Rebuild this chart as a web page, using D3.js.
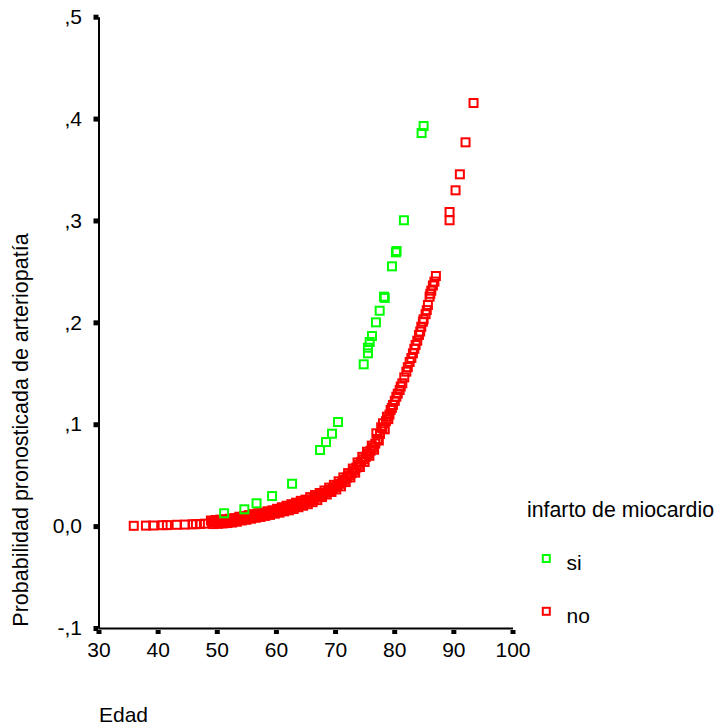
<!DOCTYPE html>
<html>
<head>
<meta charset="utf-8">
<script src="https://cdn.jsdelivr.net/npm/d3@7/dist/d3.min.js"></script>
<style>
  body { margin: 0; background: #fff; }
  text { font-family: Arial, "Liberation Sans", sans-serif; fill: #000; }
</style>
</head>
<body>
<svg id="chart" width="719" height="726"></svg>
<script>
// Axis ticks
const xTicks = [30, 40, 50, 60, 70, 80, 90, 100];
const yTicks = [-0.1, 0, 0.1, 0.2, 0.3, 0.4, 0.5];
const yTickLabels = ["-,1", "0,0", ",1", ",2", ",3", ",4", ",5"];

// Group: infarto de miocardio = si
const ageSi = [51.24, 54.66, 56.72, 59.35, 62.73, 67.46, 68.47, 69.48, 70.50,
  74.84, 75.56, 75.56, 75.85, 76.24, 76.91, 77.54, 78.27, 78.40,
  79.62, 80.29, 80.40, 81.64, 84.63, 84.97];
const probSi = [0.0126, 0.0165, 0.0224, 0.0295, 0.0416, 0.0747, 0.0825, 0.0907, 0.1022,
  0.1588, 0.1696, 0.1751, 0.1807, 0.1866, 0.2000, 0.2114, 0.2252, 0.2240,
  0.2550, 0.2687, 0.2700, 0.3002, 0.3858, 0.3927];

// Group: infarto de miocardio = no
const ageNo = [35.96, 38.02, 39.25, 40.84, 41.57, 43.21, 44.61, 45.91, 46.47, 47.14, 47.99,
  49.0, 49.4, 49.8, 50.2, 50.6, 51.0, 51.4, 51.8, 52.2, 52.6, 53.0, 53.4, 53.8, 54.2, 54.6,
  55.0, 55.4, 55.8, 56.2, 56.6, 57.0, 57.4, 57.8, 58.2, 58.6, 59.0, 59.4, 59.8, 60.2, 60.6,
  61.0, 61.4, 61.8, 62.2, 62.6, 63.0, 63.4, 63.8, 64.2, 64.6, 65.0, 65.4, 65.8, 66.2, 66.6,
  67.0, 67.4, 67.8, 68.2, 68.6, 69.0, 69.4, 69.8, 70.2, 70.6, 71.0, 71.4, 71.8, 72.2, 72.6,
  73.0, 73.4, 73.8, 74.2, 74.6, 75.0, 75.4, 75.8, 76.2, 76.6, 76.98, 77.4, 77.8, 78.1, 78.4,
  78.77, 79.0, 79.4,
  79.79, 80.36, 80.92, 81.37, 82.05, 82.61, 83.16, 83.62, 84.18, 84.58, 84.85, 84.97,
  85.70, 85.98, 86.27, 86.54, 87.05, 89.36, 89.36, 90.37, 91.10, 92.06, 93.41,
  49.2, 49.6, 50.0, 50.4, 50.8, 51.2, 51.6, 52.0, 52.4, 52.8, 53.2, 53.6, 54.0, 54.4, 54.8,
  55.2, 55.6, 56.0, 56.4, 56.8, 57.2, 57.6, 58.0, 58.4, 58.8, 59.2, 59.6, 60.0, 60.4, 60.8,
  61.2, 61.6, 62.0, 62.4, 62.8, 63.2, 63.6, 64.0, 64.4, 64.8, 65.2, 65.6, 66.0, 66.4, 66.8,
  67.2, 67.6, 68.0, 68.4, 68.8, 69.2, 69.6, 70.0, 70.4, 70.8, 71.2, 71.6, 72.0, 72.4, 72.8,
  73.2, 73.6, 74.0, 74.4, 74.8, 75.2, 75.6, 76.0, 76.4, 76.8, 77.2, 77.6, 78.0, 78.6, 79.2, 79.6,
  80.1, 80.6, 81.1, 81.7, 82.3, 82.9, 83.4, 83.9, 84.4, 85.3, 85.5, 86.1, 86.8];
const probNo = [0.0003, 0.0005, 0.0006, 0.0009, 0.0010, 0.0013, 0.0015, 0.0018, 0.0019, 0.0021, 0.0024,
  0.0055, 0.0020, 0.0060, 0.0023, 0.0064, 0.0026, 0.0067, 0.0030, 0.0072, 0.0035, 0.0079, 0.0043, 0.0092, 0.0055, 0.0098,
  0.0062, 0.0108, 0.0073, 0.0118, 0.0082, 0.0127, 0.0090, 0.0135, 0.0100, 0.0146, 0.0110, 0.0155, 0.0122, 0.0170, 0.0132,
  0.0185, 0.0145, 0.0200, 0.0155, 0.0215, 0.0168, 0.0230, 0.0185, 0.0248, 0.0200, 0.0260, 0.0215, 0.0285, 0.0235, 0.0305,
  0.0255, 0.0325, 0.0285, 0.0350, 0.0310, 0.0378, 0.0335, 0.0405, 0.0360, 0.0440, 0.0390, 0.0478, 0.0432, 0.0520, 0.0478,
  0.0565, 0.0525, 0.0625, 0.0580, 0.0680, 0.0630, 0.0730, 0.0690, 0.0790, 0.0750, 0.0911, 0.0840, 0.0970, 0.1009, 0.0950,
  0.1074, 0.1050, 0.1140,
  0.1189, 0.1270, 0.1336, 0.1402, 0.1516, 0.1611, 0.1696, 0.1778, 0.1876, 0.1957, 0.2006, 0.2030,
  0.2170, 0.2252, 0.2311, 0.2362, 0.2455, 0.3002, 0.3083, 0.3296, 0.3453, 0.3767, 0.4153,
  0.0040, 0.0042, 0.0044, 0.0045, 0.0047, 0.0048, 0.0050, 0.0052, 0.0055, 0.0058, 0.0062, 0.0068, 0.0074, 0.0078, 0.0082,
  0.0086, 0.0092, 0.0097, 0.0101, 0.0106, 0.0110, 0.0114, 0.0118, 0.0124, 0.0129, 0.0134, 0.0140, 0.0147, 0.0152, 0.0158,
  0.0166, 0.0173, 0.0178, 0.0185, 0.0192, 0.0200, 0.0208, 0.0216, 0.0224, 0.0230, 0.0238, 0.0250, 0.0260, 0.0270, 0.0280,
  0.0290, 0.0302, 0.0315, 0.0328, 0.0340, 0.0355, 0.0368, 0.0382, 0.0398, 0.0415, 0.0432, 0.0454, 0.0476, 0.0498, 0.0520,
  0.0545, 0.0575, 0.0602, 0.0630, 0.0655, 0.0680, 0.0710, 0.0740, 0.0770, 0.0810, 0.0855, 0.0905, 0.0960, 0.1030, 0.1095, 0.1160,
  0.1230, 0.1300, 0.1370, 0.1460, 0.1560, 0.1650, 0.1740, 0.1820, 0.1910, 0.2080, 0.2120, 0.2280, 0.2400];

const legendLabels = ["si", "no"];
const legendColors = ["#00ff00", "#ff0000"];

const svg = d3.select("#chart");
const x = d3.scaleLinear().domain([30, 100]).range([98.5, 512.5]);
const y = d3.scaleLinear().domain([-0.1, 0.5]).range([628, 16.7]);
const fontSize = 21;

// X axis
const gx = svg.append("g")
  .attr("transform", `translate(0,${y(-0.1)})`)
  .call(d3.axisBottom(x).tickValues(xTicks).tickFormat(d3.format("d"))
    .tickSize(5).tickSizeOuter(0).tickPadding(9));
gx.select(".domain").attr("stroke", "#000").attr("stroke-width", 2);
gx.selectAll(".tick line").attr("stroke", "#000").attr("stroke-width", 5).attr("y1", 2).attr("y2", 6);
gx.selectAll(".tick text").attr("font-size", fontSize).attr("font-family", "Arial, 'Liberation Sans', sans-serif");

// Y axis
const gy = svg.append("g")
  .attr("transform", `translate(${x(30)},0)`)
  .call(d3.axisLeft(y).tickValues(yTicks).tickFormat((d, i) => yTickLabels[i])
    .tickSize(5).tickSizeOuter(0).tickPadding(11.5));
gy.select(".domain").attr("stroke", "#000").attr("stroke-width", 2);
gy.selectAll(".tick line").attr("stroke", "#000").attr("stroke-width", 5);
gy.selectAll(".tick text").attr("font-size", fontSize).attr("font-family", "Arial, 'Liberation Sans', sans-serif");

// Axis titles
svg.append("text")
  .attr("x", 99).attr("y", 722)
  .attr("font-size", fontSize)
  .text("Edad");
svg.append("text")
  .attr("transform", "translate(28,430) rotate(-90)")
  .attr("text-anchor", "middle")
  .attr("font-size", 21.5)
  .text("Probabilidad pronosticada de arteriopatía");

// Hollow square markers
const box = 8;
function drawGroup(ages, probs, color) {
  svg.append("g")
    .selectAll("rect")
    .data(d3.zip(ages, probs))
    .join("rect")
    .attr("x", d => x(d[0]) - box / 2)
    .attr("y", d => y(d[1]) - box / 2)
    .attr("width", box)
    .attr("height", box)
    .attr("fill", "none")
    .attr("stroke", color)
    .attr("stroke-width", 2);
}
drawGroup(ageNo, probNo, legendColors[1]);
drawGroup(ageSi, probSi, legendColors[0]);

// Legend
const lg = svg.append("g");
lg.append("text").attr("x", 527).attr("y", 517).attr("font-size", 21.3).text("infarto de miocardio");
legendLabels.forEach((lab, i) => {
  const cy = 558.5 + i * 52.8;
  lg.append("rect")
    .attr("x", 546.3 - 3.5).attr("y", cy - 3.5)
    .attr("width", 7).attr("height", 7)
    .attr("fill", "none").attr("stroke", legendColors[i]).attr("stroke-width", 2);
  lg.append("text").attr("x", 566.5).attr("y", cy + 11.5).attr("font-size", fontSize).text(lab);
});
</script>
</body>
</html>
